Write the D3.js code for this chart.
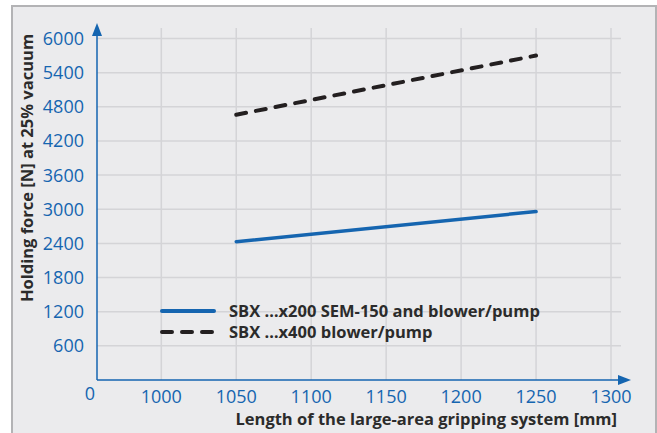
<!DOCTYPE html>
<html>
<head>
<meta charset="utf-8">
<script src="https://cdn.jsdelivr.net/npm/d3@7"></script>
<style>
  body { margin: 0; background: #fff; }
  text { font-family: "Open Sans", "Liberation Sans", sans-serif; }
  .tick-label { fill: #1565b0; font-size: 18px; }
  .title { fill: #2b2b2b; font-size: 16.5px; font-weight: bold; }
</style>
</head>
<body>
<div id="chart"></div>
<script>
// Chart data
const xTicks = [1000, 1050, 1100, 1150, 1200, 1250, 1300];
const yTicks = [600, 1200, 1800, 2400, 3000, 3600, 4200, 4800, 5400, 6000];
const seriesNames = ["SBX \u2026x200 SEM-150 and blower/pump", "SBX \u2026x400 blower/pump"];
const lengths = [1050, 1250];
const forceSem = [2430, 2960];
const forceBlower = [4660, 5700];

const svgWidth = 657;
const svgHeight = 433;
const blue = "#1565b0";

const svg = d3.select("#chart")
  .append("svg")
  .attr("width", svgWidth)
  .attr("height", svgHeight);

// panel background with border
svg.append("rect")
  .attr("x", 12).attr("y", 6)
  .attr("width", 644).attr("height", 440)
  .attr("fill", "#ebebed")
  .attr("stroke", "#b3b3b5")
  .attr("stroke-width", 2);

const x0 = 97;   // axis origin (broken axis, "0")
const y0 = 380;

const x = d3.scaleLinear().domain([1000, 1300]).range([161.3, 611]);
const y = d3.scaleLinear().domain([0, 6000]).range([y0, 38.5]);

// grid
svg.append("g").selectAll("line")
  .data(yTicks)
  .enter().append("line")
  .attr("x1", x0).attr("x2", 621)
  .attr("y1", d => y(d)).attr("y2", d => y(d))
  .attr("stroke", "#d4d4d7").attr("stroke-width", 1.5);

svg.append("g").selectAll("line")
  .data(xTicks)
  .enter().append("line")
  .attr("x1", d => x(d)).attr("x2", d => x(d))
  .attr("y1", 28).attr("y2", y0)
  .attr("stroke", "#d4d4d7").attr("stroke-width", 1.5);

// axes with arrows
svg.append("line")
  .attr("x1", x0).attr("x2", x0)
  .attr("y1", y0).attr("y2", 32)
  .attr("stroke", blue).attr("stroke-width", 1.5);
svg.append("path")
  .attr("d", `M${x0 - 5},${36} L${x0},${23} L${x0 + 5},${36} Z`)
  .attr("fill", blue);

svg.append("line")
  .attr("x1", x0).attr("x2", 622)
  .attr("y1", y0).attr("y2", y0)
  .attr("stroke", blue).attr("stroke-width", 1.5);
svg.append("path")
  .attr("d", `M${618},${y0 - 5} L${631},${y0} L${618},${y0 + 5} Z`)
  .attr("fill", blue);

// tick labels
svg.append("g").selectAll("text")
  .data(yTicks)
  .enter().append("text")
  .attr("class", "tick-label")
  .attr("x", 84)
  .attr("y", d => y(d))
  .attr("dy", "0.36em")
  .attr("text-anchor", "end")
  .text(d => d);

svg.append("g").selectAll("text")
  .data(xTicks)
  .enter().append("text")
  .attr("class", "tick-label")
  .attr("x", d => x(d))
  .attr("y", 397)
  .attr("dy", "0.36em")
  .attr("text-anchor", "middle")
  .text(d => d);

svg.append("text")
  .attr("class", "tick-label")
  .attr("x", 90)
  .attr("y", 394)
  .attr("dy", "0.36em")
  .attr("text-anchor", "middle")
  .text("0");

// axis titles
svg.append("text")
  .attr("class", "title")
  .attr("transform", `translate(27, 168) rotate(-90)`)
  .attr("text-anchor", "middle")
  .attr("dy", "0.36em")
  .text("Holding force [N] at 25% vacuum");

svg.append("text")
  .attr("class", "title")
  .attr("x", 617)
  .attr("y", 419)
  .attr("dy", "0.36em")
  .attr("text-anchor", "end")
  .text("Length of the large-area gripping system [mm]");

// lines
const line = d3.line()
  .x(d => x(d[0]))
  .y(d => y(d[1]));

svg.append("path")
  .datum(d3.zip(lengths, forceSem))
  .attr("d", line)
  .attr("fill", "none")
  .attr("stroke", blue)
  .attr("stroke-width", 3.5)
  .attr("stroke-linecap", "round");

svg.append("path")
  .datum(d3.zip(lengths, forceBlower))
  .attr("d", line)
  .attr("fill", "none")
  .attr("stroke", "#231f20")
  .attr("stroke-width", 4)
  .attr("stroke-dasharray", "10,10")
  .attr("stroke-linecap", "round");

// legend
const legend = svg.append("g");
const styles = [
  { color: blue, dash: null },
  { color: "#231f20", dash: "10,10" }
];
seriesNames.forEach((name, i) => {
  const ly = 311 + i * 21;
  legend.append("line")
    .attr("x1", 162).attr("x2", 214)
    .attr("y1", ly).attr("y2", ly)
    .attr("stroke", styles[i].color)
    .attr("stroke-width", 4)
    .attr("stroke-linecap", "round")
    .attr("stroke-dasharray", styles[i].dash);
  legend.append("text")
    .attr("class", "title")
    .attr("x", 229)
    .attr("y", ly)
    .attr("dy", "0.36em")
    .text(name);
});
</script>
</body>
</html>
